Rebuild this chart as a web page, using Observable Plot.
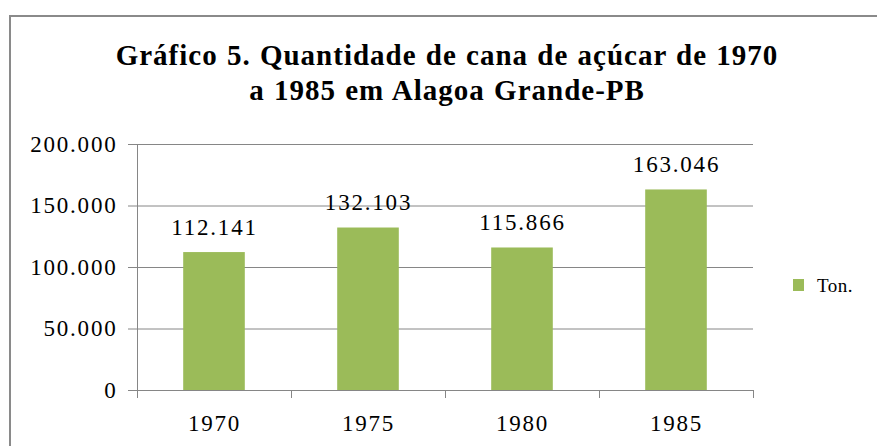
<!DOCTYPE html>
<html><head><meta charset="utf-8">
<script src="https://cdn.jsdelivr.net/npm/d3@7"></script>
<script src="https://cdn.jsdelivr.net/npm/@observablehq/plot@0.6"></script>
<style>
html,body{margin:0;padding:0;background:#fff;overflow:hidden;width:877px;height:446px;position:relative;}
#frame{position:absolute;left:9px;top:15px;width:920px;height:500px;border:2px solid #8a8a8a;box-sizing:border-box;}
#title{position:absolute;left:0;top:38px;width:894px;text-align:center;font-family:"Liberation Serif",serif;font-weight:bold;font-size:29px;line-height:35px;letter-spacing:1px;word-spacing:1px;color:#000;}
#chart{position:absolute;left:0;top:120px;}
#legend{position:absolute;left:793px;top:276px;font-family:"Liberation Serif",serif;font-size:19px;line-height:20px;color:#000;white-space:nowrap;letter-spacing:0.5px;}
#legend .sw{position:absolute;left:0;top:3px;width:11px;height:12px;background:#9BBB59;}
#legend .lb{position:absolute;left:24px;top:0;}
</style></head>
<body>
<div id="frame"></div>
<div id="title">Gráfico 5. Quantidade de cana de açúcar de 1970<br>a 1985 em Alagoa Grande-PB</div>
<div id="chart"></div>
<div id="legend"><span class="sw"></span><span class="lb">Ton.</span></div>
<script>
const years = ["1970", "1975", "1980", "1985"];
const values = [112141, 132103, 115866, 163046];
const yTicks = [0, 50000, 100000, 150000, 200000];
const seriesName = "Ton.";

const barColor = "#9BBB59";
const gridColor = "#868686";

const br = d3.formatLocale({decimal: ",", thousands: ".", grouping: [3], currency: ["R$", ""]});
const fmt = br.format(",d");

const data = years.map((y, i) => ({year: y, i, value: values[i]}));
const bounds = d3.range(years.length + 1);

const chart = Plot.plot({
  width: 877,
  height: 326,
  marginTop: 24,
  marginBottom: 56,
  marginLeft: 137,
  marginRight: 124,
  style: {fontFamily: "'Liberation Serif', serif", fontSize: "23px", color: "#000", background: "transparent", letterSpacing: "1.8px", overflow: "visible"},
  x: {domain: [0, years.length], axis: null},
  y: {domain: [0, 200000], axis: null},
  marks: [
    Plot.ruleY(yTicks, {stroke: gridColor, strokeWidth: 1}),
    Plot.axisY({ticks: yTicks, tickSize: 9, tickPadding: 11, tickFormat: fmt, stroke: gridColor, fill: "#000", fontSize: 23, label: null}),
    Plot.ruleX([0], {y1: 0, y2: 200000, stroke: gridColor}),
    Plot.axisX({ticks: bounds, tickSize: 8, tickFormat: () => "", stroke: gridColor, label: null}),
    Plot.rectY(data, {x1: d => d.i + 0.3, x2: d => d.i + 0.7, y: "value", fill: barColor}),
    Plot.text(data, {x: d => d.i + 0.5, y: 0, text: "year", dy: 40, lineAnchor: "bottom", fontSize: 23, fill: "#000"}),
    Plot.text(data, {x: d => d.i + 0.5, y: "value", text: d => fmt(d.value), dy: -18, lineAnchor: "bottom", fontSize: 23, fill: "#000"})
  ]
});
document.getElementById("chart").appendChild(chart);
</script>
</body></html>
